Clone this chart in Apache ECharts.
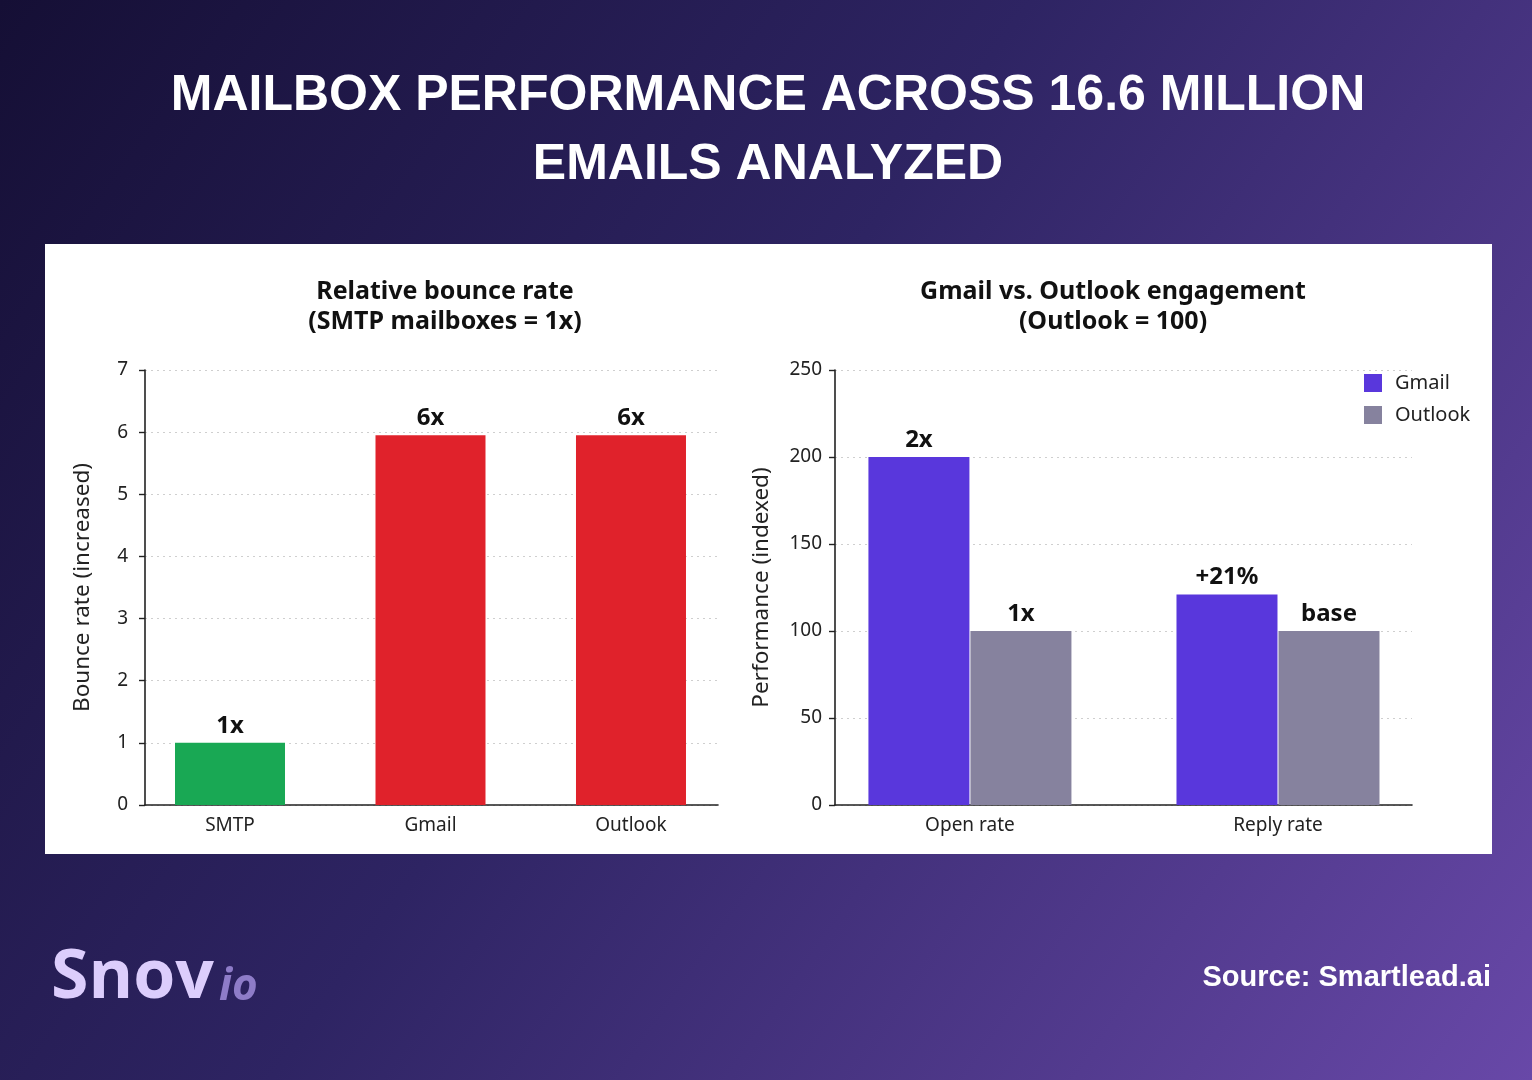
<!DOCTYPE html>
<html>
<head>
<meta charset="utf-8">
<script src="https://cdn.jsdelivr.net/npm/echarts@6/dist/echarts.min.js"></script>
<style>html,body{margin:0;padding:0;background:#2a1f55;}#c{width:1532px;height:1080px;}</style>
</head>
<body>
<div id="c"></div>
<script>
// ---- data ----
const bounceCategories = ['SMTP', 'Gmail', 'Outlook'];
const bounceValues = [1, 5.95, 5.95];
const bounceLabels = ['1x', '6x', '6x'];
const bounceColors = ['#19a854', '#e0222b', '#e0222b'];

const engageCategories = ['Open rate', 'Reply rate'];
const gmailValues = [200, 121];
const outlookValues = [100, 100];
const gmailLabels = ['2x', '+21%'];
const outlookLabels = ['1x', 'base'];

const bounceTicks = [0, 1, 2, 3, 4, 5, 6, 7];
const engageTicks = [0, 50, 100, 150, 200, 250];

const FONT = '"Noto Sans", "Open Sans", sans-serif';
const chart = echarts.init(document.getElementById('c'));

const yAxisCommon = {
  type: 'value',
  nameLocation: 'middle',
  nameTextStyle: { fontFamily: FONT, fontSize: 22.5, color: '#222' },
  axisLine: { show: true, onZero: false, lineStyle: { color: '#222', width: 1.6 } },
  axisTick: { show: true, length: 6, lineStyle: { color: '#222', width: 1.4 } },
  axisLabel: { fontFamily: FONT, fontSize: 19, color: '#222', margin: 16 },
  splitLine: { show: true, lineStyle: { color: '#cfcfcf', type: [2, 4], width: 1 } }
};
const xAxisCommon = {
  type: 'value',
  axisLine: { show: true, onZero: false, lineStyle: { color: '#222', width: 1.6 } },
  axisTick: { show: false },
  splitLine: { show: false },
  axisLabel: { fontFamily: FONT, fontSize: 19, color: '#222', margin: 11 }
};
const labelStyle = { show: true, position: 'top', distance: 5, fontFamily: FONT, fontWeight: 'bold', fontSize: 24, color: '#111' };

const option = {
  backgroundColor: {
    type: 'linear', x: 0, y: 0, x2: 1, y2: 1,
    colorStops: [
      { offset: 0, color: '#150f35' },
      { offset: 0.45, color: '#2e2463' },
      { offset: 1, color: '#6848a8' }
    ]
  },
  animation: false,
  graphic: [
    { type: 'rect', z: -1, shape: { x: 45, y: 244, width: 1447, height: 610 }, style: { fill: '#ffffff' } },
    { type: 'text', x: 768, y: 71, style: { text: 'MAILBOX PERFORMANCE ACROSS 16.6 MILLION', align: 'center', fontFamily: '"Liberation Sans", Arial, sans-serif', fontWeight: 'bold', fontSize: 50, fill: '#ffffff' } },
    { type: 'text', x: 768, y: 140, style: { text: 'EMAILS ANALYZED', align: 'center', fontFamily: '"Liberation Sans", Arial, sans-serif', fontWeight: 'bold', fontSize: 50, fill: '#ffffff' } },
    { type: 'text', x: 445, y: 292, style: { text: 'Relative bounce rate', align: 'center', verticalAlign: 'middle', fontFamily: FONT, fontWeight: 'bold', fontSize: 25, fill: '#111' } },
    { type: 'text', x: 445, y: 322, style: { text: '(SMTP mailboxes = 1x)', align: 'center', verticalAlign: 'middle', fontFamily: FONT, fontWeight: 'bold', fontSize: 25, fill: '#111' } },
    { type: 'text', x: 1113, y: 292, style: { text: 'Gmail vs. Outlook engagement', align: 'center', verticalAlign: 'middle', fontFamily: FONT, fontWeight: 'bold', fontSize: 25, fill: '#111' } },
    { type: 'text', x: 1113, y: 322, style: { text: '(Outlook = 100)', align: 'center', verticalAlign: 'middle', fontFamily: FONT, fontWeight: 'bold', fontSize: 25, fill: '#111' } },
    { type: 'text', x: 51, y: 945, style: { text: 'Snov', verticalAlign: 'top', fontFamily: '"Open Sans", sans-serif', fontWeight: 'bold', fontSize: 68, fill: '#dccdfc' } },
    { type: 'text', x: 219, y: 965, style: { text: 'io', verticalAlign: 'top', fontFamily: '"Open Sans", sans-serif', fontWeight: 'bold', fontStyle: 'italic', fontSize: 44, fill: '#8e7cc8' } },
    { type: 'text', x: 1491, y: 978, style: { text: 'Source: Smartlead.ai', align: 'right', verticalAlign: 'middle', fontFamily: '"Liberation Sans", Arial, sans-serif', fontWeight: 'bold', fontSize: 29, fill: '#ffffff' } }
  ],
  legend: {
    orient: 'vertical', left: 1364, top: 373, padding: 0, itemWidth: 18, itemHeight: 18, itemGap: 12,
    icon: 'rect',
    textStyle: { fontFamily: FONT, fontSize: 20, color: '#222', padding: [0, 0, 0, 8] },
    data: ['Gmail', 'Outlook']
  },
  grid: [
    { left: 145, top: 370, width: 573, height: 435 },
    { left: 835, top: 370, width: 577, height: 435 }
  ],
  xAxis: [
    Object.assign({}, xAxisCommon, {
      gridIndex: 0, min: -0.424, max: 2.434,
      axisLabel: Object.assign({}, xAxisCommon.axisLabel, { customValues: [0, 1, 2], formatter: v => bounceCategories[Math.round(v)] })
    }),
    Object.assign({}, xAxisCommon, {
      gridIndex: 1, min: -0.438, max: 1.435,
      axisLabel: Object.assign({}, xAxisCommon.axisLabel, { customValues: [0, 1], formatter: v => engageCategories[Math.round(v)] })
    })
  ],
  yAxis: [
    Object.assign({}, yAxisCommon, {
      gridIndex: 0, min: bounceTicks[0], max: bounceTicks[bounceTicks.length - 1], interval: 1,
      name: 'Bounce rate (increased)', nameGap: 51,
      axisLabel: Object.assign({}, yAxisCommon.axisLabel, { margin: 17 })
    }),
    Object.assign({}, yAxisCommon, {
      gridIndex: 1, min: engageTicks[0], max: engageTicks[engageTicks.length - 1], interval: 50,
      name: 'Performance (indexed)', nameGap: 62,
      axisLabel: Object.assign({}, yAxisCommon.axisLabel, { margin: 13 })
    })
  ],
  series: [
    {
      type: 'bar', xAxisIndex: 0, yAxisIndex: 0, barWidth: 110,
      data: bounceValues.map((v, i) => ({ value: [i, v], itemStyle: { color: bounceColors[i] } })),
      label: Object.assign({}, labelStyle, { formatter: p => bounceLabels[p.dataIndex] })
    },
    {
      name: 'Gmail', type: 'bar', xAxisIndex: 1, yAxisIndex: 1, barWidth: 101, barGap: '1%',
      itemStyle: { color: '#5937dc' },
      data: gmailValues.map((v, i) => [i, v]),
      label: Object.assign({}, labelStyle, { formatter: p => gmailLabels[p.dataIndex] })
    },
    {
      name: 'Outlook', type: 'bar', xAxisIndex: 1, yAxisIndex: 1, barWidth: 101, barGap: '1%',
      itemStyle: { color: '#86829e' },
      data: outlookValues.map((v, i) => [i, v]),
      label: Object.assign({}, labelStyle, { formatter: p => outlookLabels[p.dataIndex] })
    }
  ]
};
chart.setOption(option);
</script>
</body>
</html>
